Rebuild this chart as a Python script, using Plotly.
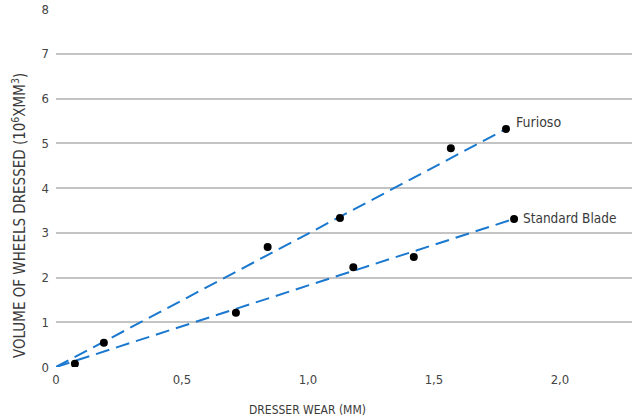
import plotly.graph_objects as go

# data
points_x = [0.075, 0.19, 0.714, 0.84, 1.127, 1.18, 1.42, 1.567, 1.786, 1.818]
points_y = [0.07, 0.54, 1.21, 2.68, 3.33, 2.23, 2.46, 4.89, 5.32, 3.31]

furioso_x = [0, 1.786]
furioso_y = [0, 5.32]
standard_x = [0, 1.818]
standard_y = [0, 3.31]

x_ticks = [0, 0.5, 1.0, 1.5, 2.0]
x_tick_labels = ["0", "0,5", "1,0", "1,5", "2,0"]
y_ticks = [0, 1, 2, 3, 4, 5, 6, 7, 8]

FONT = "DejaVu Sans Condensed, Liberation Sans Narrow, Roboto, sans-serif"
BLUE = "#1a78cf"
TEXT = "#3a3a3a"

fig = go.Figure()
fig.add_trace(go.Scatter(x=furioso_x, y=furioso_y, mode="lines",
                         line=dict(color=BLUE, width=2, dash="14px,7px"),
                         hoverinfo="skip", showlegend=False))
fig.add_trace(go.Scatter(x=standard_x, y=standard_y, mode="lines",
                         line=dict(color=BLUE, width=2, dash="14px,7px"),
                         hoverinfo="skip", showlegend=False))
fig.add_trace(go.Scatter(x=points_x, y=points_y, mode="markers",
                         marker=dict(color="black", size=8),
                         showlegend=False))

fig.add_annotation(x=furioso_x[-1], y=furioso_y[-1], text="Furioso",
                   showarrow=False, xanchor="left", xshift=8, yshift=7,
                   font=dict(family=FONT, size=14, color=TEXT))
fig.add_annotation(x=standard_x[-1], y=standard_y[-1], text="Standard Blade",
                   showarrow=False, xanchor="left", xshift=7, yshift=1,
                   font=dict(family=FONT, size=13.5, color=TEXT))

fig.add_annotation(xref="paper", yref="paper", x=(307 - 56) / 576, y=0,
                   yshift=-43, yanchor="middle", xanchor="center",
                   text="DRESSER WEAR (MM)", showarrow=False,
                   font=dict(family=FONT, size=12, color=TEXT))
fig.add_annotation(xref="paper", yref="paper", x=0, xshift=-37,
                   y=(367 - 216) / 358, yanchor="middle", xanchor="center",
                   textangle=-90,
                   text="VOLUME OF WHEELS DRESSED (10<sup>6</sup>XMM<sup>3</sup>)",
                   showarrow=False,
                   font=dict(family=FONT, size=15, color=TEXT))

fig.update_layout(
    width=632, height=420,
    margin=dict(l=56, r=0, t=9, b=53),
    paper_bgcolor="white", plot_bgcolor="white",
    font=dict(family=FONT, size=13, color="#444"),
    separators=",.",
    xaxis=dict(range=[0, 2.286], tickvals=x_ticks, ticktext=x_tick_labels,
               showgrid=False, zeroline=False, showline=False,
               ticks="", ticklabelstandoff=3),
    yaxis=dict(range=[0, 8], tickvals=y_ticks, showgrid=True,
               gridcolor="#c4c4c4", gridwidth=1.5, zeroline=False,
               showline=False, ticks="", ticklabelstandoff=6),
)

fig.write_html("out.html",
               config={"displayModeBar": False},
               post_script="document.body.style.margin='0';")
